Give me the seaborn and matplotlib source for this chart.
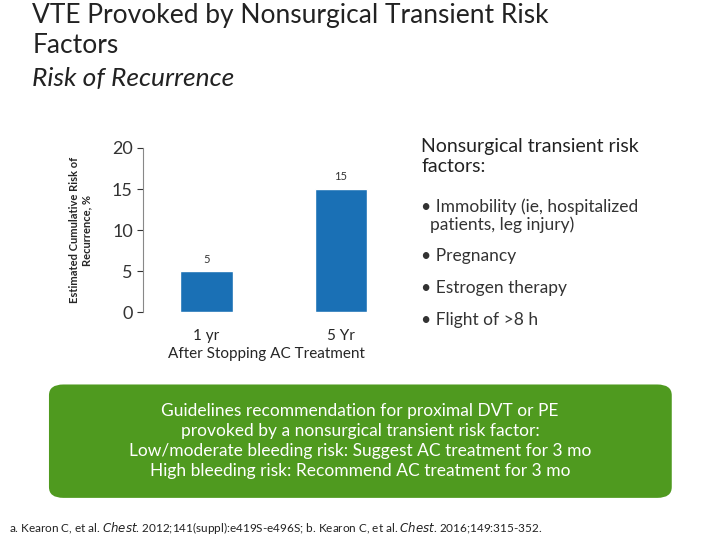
import matplotlib
matplotlib.use("Agg")
import matplotlib.pyplot as plt
import seaborn as sns
import pandas as pd
from matplotlib.patches import FancyBboxPatch

periods = ["1 yr", "5 Yr"]
risk = [5, 15]
yticks = [0, 5, 10, 15, 20]
bullets = ["Immobility (ie, hospitalized\n  patients, leg injury)", "Pregnancy",
           "Estrogen therapy", "Flight of >8 h"]

sns.set_style("white")
plt.rcParams["font.family"] = ["Lato", "DejaVu Sans"]

df = pd.DataFrame({"period": periods, "risk": risk})
fig = plt.figure(figsize=(7.2, 5.4), dpi=100)
ax = fig.add_axes([0.199, 0.422, 0.343, 0.304])
sns.barplot(data=df, x="period", y="risk", color="#1a70b5", width=0.39, ax=ax, saturation=1)
for i, v in enumerate(risk):
    ax.text(i, v + 0.8, str(v), ha="center", va="bottom", fontsize=8, color="#333333")
ax.set_xlim(-0.468, 1.367)
ax.set_ylim(0, 20)
ax.set_yticks(yticks)
ax.tick_params(axis="y", labelsize=13, colors="#333333", length=4, left=True)
ax.tick_params(axis="x", labelsize=11, length=0, pad=12)
for s in ["top", "right", "bottom"]:
    ax.spines[s].set_visible(False)
ax.spines["left"].set_color("#888888")
ax.set_xlabel("After Stopping AC Treatment", fontsize=11, labelpad=3)
ax.set_ylabel("Estimated Cumulative Risk of\nRecurrence, %", fontsize=8, fontweight="bold", labelpad=14)

fig.text(0.045, 0.995, "VTE Provoked by Nonsurgical Transient Risk\nFactors", fontsize=19,
         va="top", ha="left", linespacing=1.25, color="#222222")
fig.text(0.045, 0.855, "Risk of Recurrence", fontsize=19, style="italic", va="center", color="#222222")

fig.text(0.585, 0.71, "Nonsurgical transient risk\nfactors:", fontsize=14, va="center", color="#222222")
ys = [0.6, 0.525, 0.467, 0.408]
for y, b in zip(ys, bullets):
    fig.text(0.585, y, "\u2022 " + b, fontsize=12.5, va="center", color="#333333", linespacing=1.1)

box = FancyBboxPatch((0.068, 0.078), 0.865, 0.21, boxstyle="round,pad=0,rounding_size=0.02",
                     transform=fig.transFigure, facecolor="#4f9a1f", edgecolor="none")
fig.patches.append(box)
fig.text(0.5, 0.183, "Guidelines recommendation for proximal DVT or PE\nprovoked by a nonsurgical transient risk factor:\n"
         "Low/moderate bleeding risk: Suggest AC treatment for 3 mo\nHigh bleeding risk: Recommend AC treatment for 3 mo",
         ha="center", va="center", fontsize=12.5, color="white", linespacing=1.3)
fig.text(0.012, 0.023, "a. Kearon C, et al. $\\it{Chest}$. 2012;141(suppl):e419S-e496S; b. Kearon C, et al. $\\it{Chest}$. 2016;149:315-352.",
         fontsize=8.5, va="center", color="#222222")

fig.savefig("out.png", dpi=100)
